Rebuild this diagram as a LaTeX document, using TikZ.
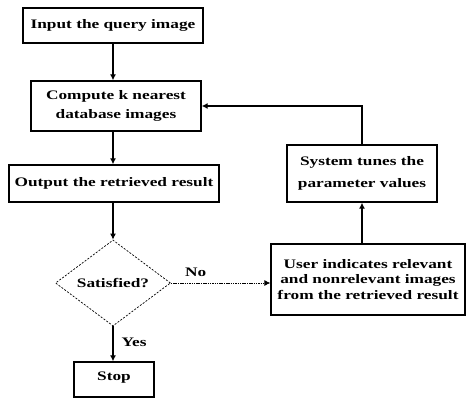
\documentclass[tikz,border=0pt]{standalone}
\usepackage{fontspec}
\setmainfont{Liberation Serif}[FakeStretch=1.33]
\usetikzlibrary{shapes.geometric,arrows.meta}
\begin{document}
\begin{tikzpicture}[x=1pt,y=-1pt,
  every node/.style={font=\bfseries\fontsize{13}{15.5}\selectfont, align=center, inner sep=0pt},
  box/.style={draw, line width=1.3pt, minimum width=#1},
  dia/.style={draw, diamond, aspect=1.3, line width=0.7pt, dash pattern=on 2pt off 1.5pt},
  arr/.style={line width=1.3pt, -{Latex[length=6pt,width=6pt]}},
  darr/.style={line width=0.8pt, dash pattern=on 1.5pt off 0.8pt, -{Latex[length=6pt,width=6pt]}}]
\useasboundingbox (0,0) rectangle (466,398);
\node[box=180, minimum height=35] (in) at (113,25.5) {Input the query image};
\node[box=170, minimum height=50] (c) at (116,106) {Compute k nearest\\[4pt]database images};
\node[box=210, minimum height=37] (o) at (114,183.5) {Output the retrieved result};
\node[dia, minimum width=115, minimum height=86] (d) at (113,283) {Satisfied?};
\node[box=80, minimum height=35, text depth=6pt] (st) at (114,379.5) {Stop};
\node[box=194, minimum height=71] (u) at (368,279.5) {User indicates relevant\\and nonrelevant images\\from the retrieved result};
\node[box=150, minimum height=57] (s) at (362,173.5) {System tunes the\\[6pt]parameter values};
\draw[arr] (in.south) -- (in.south |- c.north);
\draw[arr] (in.south |- c.south) -- (in.south |- o.north);
\draw[arr] (in.south |- o.south) -- (d.north);
\draw[arr] (d.south) -- node[pos=0.45, right=8pt] (yes) {Yes} (d.south |- st.north);
\draw[darr] (d.east) -- node[pos=0.25, above=6pt] (no) {No} (d.east -| u.west);
\draw[arr] (u.north -| s.south) -- (s.south);
\draw[arr] (s.north) |- (c.east);
\end{tikzpicture}
\end{document}
